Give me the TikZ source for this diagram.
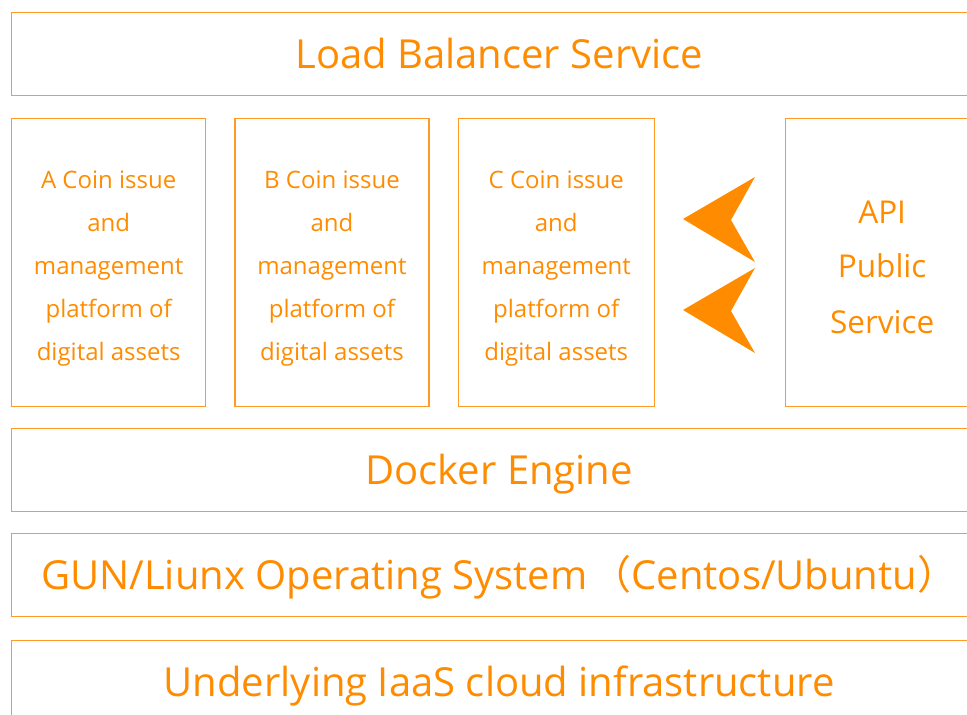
\documentclass[tikz,border=0pt]{standalone}
\usepackage{fontspec}
\setmainfont{Open Sans}
\newfontfamily\cjk{Noto Sans CJK SC}
\usepackage{tikz}
\usetikzlibrary{positioning}
\definecolor{coinorange}{HTML}{FF8C00}
\definecolor{lineorange}{HTML}{FF9A26}
\tikzstyle{layer}=[draw=lineorange,line width=1.3pt,text=coinorange,anchor=north west,minimum width=975pt,minimum height=83pt,inner sep=0pt,text height=28.5pt,text depth=0pt,font=\fontsize{40}{44}\selectfont]
\tikzstyle{platform}=[draw=lineorange,line width=1.3pt,text=coinorange,minimum width=194pt,minimum height=288pt,inner sep=0pt,align=center,text height=202pt,font=\fontsize{24}{43}\selectfont]
\tikzstyle{api}=[platform,minimum width=193pt,text height=141pt,font=\fontsize{31.5}{55}\selectfont]

\begin{document}
\begin{tikzpicture}[x=1pt,y=-1pt]
\useasboundingbox (0,0) rectangle (967,715);
\node [layer] (lb) at (11,12) {Load Balancer Service};
\node [platform,anchor=north west] (a) at (11,118) {A Coin issue\\and\\management\\platform of\\digital assets};
\node [platform,right=28pt of a] (b) {B Coin issue\\and\\management\\platform of\\digital assets};
\node [platform,minimum width=196pt,right=28pt of b] (c) {C Coin issue\\and\\management\\platform of\\digital assets};
\node [api,anchor=north west] (api) at (785,118) {API\\Public\\Service};
\node [layer] (docker) at (11,428) {Docker Engine};
\node [layer] (os) at (11,533) {GUN/Liunx Operating System\kern4pt{\cjk （}Centos/Ubuntu{\cjk ）}};
\node [layer] (iaas) at (11,640) {Underlying IaaS cloud infrastructure};
% arrows from the API service
\foreach \y in {219,310}
  \fill [coinorange] (683,\y) -- (755,\y-42) -- (731,\y+1) -- (755,\y+43) -- cycle;
\end{tikzpicture}
\end{document}
